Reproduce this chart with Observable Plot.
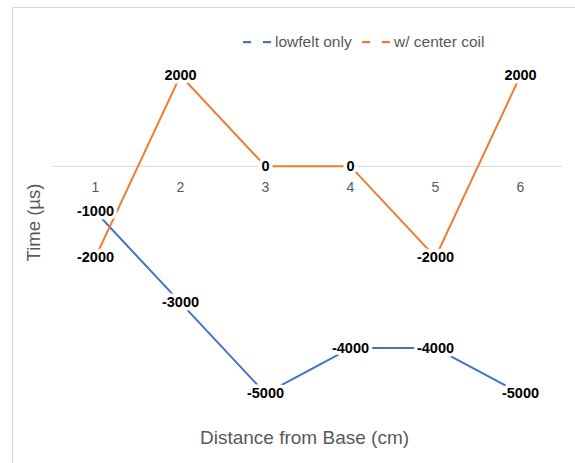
<!DOCTYPE html>
<html>
<head>
<meta charset="utf-8">
<script src="https://cdn.jsdelivr.net/npm/d3@7"></script>
<script src="https://cdn.jsdelivr.net/npm/@observablehq/plot@0.6"></script>
<style>
  body { margin: 0; background: #fff; }
  #wrap { position: relative; width: 575px; height: 463px; overflow: hidden; background: #fff; font-family: "Liberation Sans", Arial, sans-serif; }
  #frame { position: absolute; left: 12px; top: 7px; right: -5px; bottom: -5px; border: 1px solid #d9d9d9; }
  #chart { position: absolute; left: 0; top: 0; }
  #chart svg { background: transparent !important; }
  .leg { position: absolute; top: 33px; height: 18px; display: flex; align-items: center; font-size: 15.5px; color: #595959; white-space: nowrap; }
  .leg svg { margin-right: 2px; }
</style>
</head>
<body>
<div id="wrap">
  <div id="frame"></div>
  <div id="chart"></div>
  <div id="legend"></div>
</div>
<script>
const categories = [1, 2, 3, 4, 5, 6];
const seriesNames = ["lowfelt only", "w/ center coil"];
const lowfeltOnly = [-1000, -3000, -5000, -4000, -4000, -5000];
const centerCoil = [-2000, 2000, 0, 0, -2000, 2000];
const seriesColors = ["#4472C4", "#ED7D31"];
const xTitle = "Distance from Base (cm)";
const yTitle = "Time (µs)";

const rows = [];
[lowfeltOnly, centerCoil].forEach((vals, si) => {
  vals.forEach((v, i) => rows.push({series: seriesNames[si], x: categories[i], value: v}));
});

const font = "Liberation Sans, Arial, sans-serif";

const chart = Plot.plot({
  width: 575,
  height: 463,
  marginLeft: 52,
  marginRight: 13,
  marginTop: 29.5,
  marginBottom: 24.5,
  style: {background: "transparent"},
  x: {type: "point", domain: categories, padding: 0.5, axis: null},
  y: {domain: [-6000, 3000], axis: null},
  color: {domain: seriesNames, range: seriesColors},
  marks: [
    Plot.ruleY([0], {stroke: "#d9d9d9", strokeWidth: 1}),
    Plot.line(rows, {x: "x", y: "value", z: "series", stroke: "series", strokeWidth: 2}),
    Plot.text(rows, {
      x: "x", y: "value", text: d => String(d.value),
      fill: "#000", stroke: "white", strokeWidth: 7, fontWeight: "bold",
      fontSize: 14.5, fontFamily: font
    }),
    Plot.text(categories, {
      x: d => d, y: d => 0, text: d => String(d), dy: 21,
      fill: "#595959", fontSize: 14, fontFamily: font
    }),
    Plot.text([yTitle], {
      frameAnchor: "left", text: d => d, rotate: -90, dx: -18, dy: -12,
      textAnchor: "middle", lineAnchor: "middle",
      fill: "#595959", fontSize: 18.5, fontFamily: font
    }),
    Plot.text([xTitle], {
      frameAnchor: "bottom", text: d => d, dx: -3, dy: -1.5,
      textAnchor: "middle", lineAnchor: "middle",
      fill: "#595959", fontSize: 19, fontFamily: font
    })
  ]
});
document.getElementById("chart").appendChild(chart);

const legendLefts = [243, 362];
const legend = document.getElementById("legend");
seriesNames.forEach((name, i) => {
  const item = document.createElement("div");
  item.className = "leg";
  item.style.left = legendLefts[i] + "px";
  item.innerHTML = `<svg width="30" height="6"><line x1="0" y1="3" x2="28" y2="3" stroke="${seriesColors[i]}" stroke-width="2.25" stroke-dasharray="8,12"/></svg><span>${name}</span>`;
  legend.appendChild(item);
});
</script>
</body>
</html>
